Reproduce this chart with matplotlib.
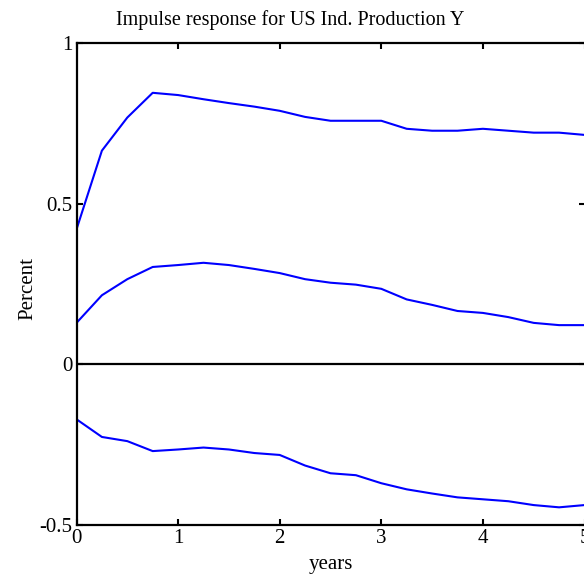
import numpy as np
import matplotlib
matplotlib.use("Agg")
import matplotlib.pyplot as plt

years = np.arange(21) * 0.25

upper = [0.420, 0.665, 0.768, 0.845, 0.838, 0.825, 0.813, 0.802, 0.789, 0.770,
         0.758, 0.758, 0.758, 0.733, 0.727, 0.727, 0.733, 0.727, 0.721, 0.721, 0.714]
middle = [0.129, 0.215, 0.265, 0.303, 0.309, 0.316, 0.309, 0.297, 0.284, 0.265,
          0.254, 0.248, 0.235, 0.202, 0.185, 0.166, 0.160, 0.147, 0.129, 0.122, 0.122]
lower = [-0.171, -0.226, -0.239, -0.270, -0.265, -0.259, -0.265, -0.276, -0.282, -0.315,
         -0.339, -0.345, -0.370, -0.389, -0.402, -0.414, -0.420, -0.426, -0.438, -0.445, -0.438]

xticks = [0, 1, 2, 3, 4, 5]
yticks = [-0.5, 0, 0.5, 1]
ytick_labels = ["-0.5", "0", "0.5", "1"]

plt.rcParams['font.family'] = ['Liberation Serif', 'DejaVu Serif']

fig = plt.figure(figsize=(5.84, 5.79), dpi=100)
ax = fig.add_axes([76.5 / 584, 54 / 579, 508 / 584, 482 / 579])

for series in (upper, middle, lower):
    ax.plot(years, series, color=(0, 0, 1), lw=1.5, solid_joinstyle='round')

ax.axhline(0, color='black', lw=1.6)

ax.set_xlim(0, 5)
ax.set_ylim(-0.5, 1)
ax.set_xticks(xticks)
ax.set_yticks(yticks)
ax.set_yticklabels(ytick_labels)
ax.tick_params(direction='in', top=True, right=True, length=4, width=1.5,
               labelsize=15, pad=3)
for s in ax.spines.values():
    s.set_linewidth(1.6)
ax.spines['right'].set_visible(False)

ax.set_xlabel("years", fontsize=15, labelpad=5)
ax.set_ylabel("Percent", fontsize=15, va='center')
ax.yaxis.set_label_coords(-0.095, 0.49)
fig.text(290 / 584, 1 - 20 / 579, "Impulse response for US Ind. Production Y",
         ha='center', va='center', fontsize=14.5)

fig.savefig("out.png", dpi=100)
